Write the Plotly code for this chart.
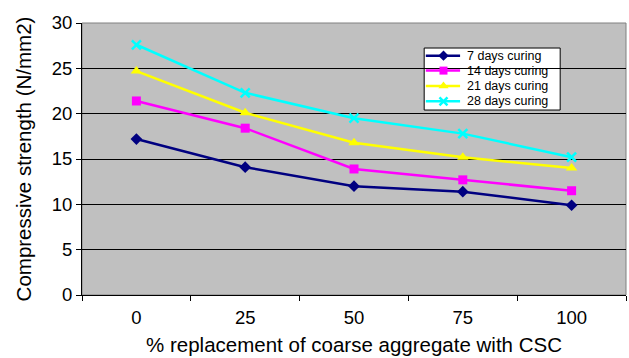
import plotly.graph_objects as go

categories = ["0", "25", "50", "75", "100"]
days7 = [17.2, 14.1, 12.0, 11.4, 9.9]
days14 = [21.4, 18.4, 13.9, 12.7, 11.5]
days21 = [24.7, 20.1, 16.8, 15.2, 14.0]
days28 = [27.6, 22.3, 19.5, 17.8, 15.2]
series_names = ["7 days curing", "14 days curing", "21 days curing", "28 days curing"]

series = [
    (series_names[0], days7, "#000080", "diamond", 9),
    (series_names[1], days14, "#FF00FF", "square", 9),
    (series_names[2], days21, "#FFFF00", "triangle-up", 10),
    (series_names[3], days28, "#00FFFF", "x-thin", 9),
]

fig = go.Figure()
for name, vals, color, sym, size in series:
    fig.add_trace(go.Scatter(
        x=categories, y=vals, name=name, mode="lines+markers",
        line=dict(color=color, width=2.5),
        marker=dict(symbol=sym, size=size, color=color,
                    line=dict(color=color, width=2.5 if sym == "x-thin" else 0)),
        showlegend=False,
    ))

# custom compact legend (box, sample lines, sample markers, labels)
lx0, lx1, ly0, ly1 = 0.629, 0.879, 0.680, 0.908
sx0, sx1, smx, tx = 0.632, 0.695, 0.6645, 0.704
rows = [0.880, 0.825, 0.768, 0.712]
shapes = [dict(type="rect", xref="paper", yref="paper", x0=0, y0=0, x1=1, y1=1,
               line=dict(color="#808080", width=1), layer="below"),
          dict(type="rect", xref="paper", yref="paper", x0=lx0, x1=lx1, y0=ly0, y1=ly1,
               fillcolor="white", line=dict(color="black", width=1), layer="between")]
annotations = []
for (name, vals, color, sym, size), ry in zip(series, rows):
    shapes.append(dict(type="line", xref="paper", yref="paper", x0=sx0, x1=sx1,
                       y0=ry, y1=ry, line=dict(color=color, width=2.5), layer="between"))
    annotations.append(dict(text=name, xref="paper", yref="paper", x=tx, y=ry,
                            xanchor="left", yanchor="middle", showarrow=False,
                            font=dict(size=12.5)))
    fig.add_trace(go.Scatter(
        x=[smx], y=[ry], xaxis="x2", yaxis="y2", mode="markers", showlegend=False,
        hoverinfo="skip",
        marker=dict(symbol=sym, size=size - 1, color=color,
                    line=dict(color=color, width=2.5 if sym == "x-thin" else 0)),
    ))

fig.update_layout(
    width=629, height=358,
    margin=dict(l=82, r=3, t=23, b=63),
    paper_bgcolor="white", plot_bgcolor="#C0C0C0",
    font=dict(family="Arial", color="black", size=18),
    showlegend=False,
    shapes=shapes, annotations=annotations,
    xaxis2=dict(overlaying="x", range=[0, 1], visible=False, fixedrange=True),
    yaxis2=dict(overlaying="y", range=[0, 1], visible=False, fixedrange=True),
)
fig.layout.xaxis.update(
    type="category", range=[-0.5, 4.5], showgrid=False,
    showline=True, linecolor="black", linewidth=1,
    ticks="outside", ticklen=5, tickcolor="black", tickson="boundaries",
    ticklabelstandoff=6,
    title=dict(text="% replacement of coarse aggregate with CSC", standoff=10,
               font=dict(size=20.5)),
    tickfont=dict(size=18.5),
)
fig.layout.yaxis.update(
    range=[0, 30], dtick=5, showgrid=True, gridcolor="black", gridwidth=1,
    showline=True, linecolor="black", linewidth=1,
    ticks="outside", ticklen=5, tickcolor="black",
    title=dict(text="Compressive strength (N/mm2)", standoff=14,
               font=dict(size=20.5)),
    tickfont=dict(size=18.5), zeroline=False,
)

fig.write_html("out.html")
